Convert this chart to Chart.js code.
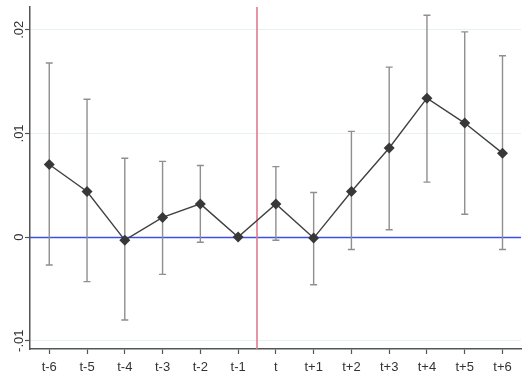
<!DOCTYPE html>
<html>
<head>
<meta charset="utf-8">
<script src="https://cdn.jsdelivr.net/npm/chart.js@4/dist/chart.umd.min.js"></script>
<style>
  html, body { margin: 0; padding: 0; background: #ffffff; }
  #wrap { width: 528px; height: 381px; position: relative; }
</style>
</head>
<body>
<div id="wrap"><canvas id="c"></canvas></div>
<script>
// ---- data ----
const categories = ['t-6','t-5','t-4','t-3','t-2','t-1','t','t+1','t+2','t+3','t+4','t+5','t+6'];
const estimates  = [0.0070, 0.0044, -0.0003, 0.0019, 0.0032, 0.0000, 0.0032, -0.0001, 0.0044, 0.0086, 0.0134, 0.0110, 0.0081];
const ciUpper    = [0.0168, 0.0133, 0.0076, 0.0073, 0.0069, null, 0.0068, 0.0043, 0.0102, 0.0164, 0.0214, 0.0198, 0.0175];
const ciLower    = [-0.0027, -0.0043, -0.0080, -0.0036, -0.0005, null, -0.0003, -0.0046, -0.0012, 0.0007, 0.0053, 0.0022, -0.0012];
const yTickValues = [-0.01, 0, 0.01, 0.02];
const yTickLabels = ['-.01', '0', '.01', '.02'];
const eventLine = 5.5; // between t-1 and t
const zeroLine = 0;

const FONT = "'Liberation Sans', Arial, sans-serif";

const refLinesPlugin = {
  id: 'refLines',
  beforeDatasetsDraw(chart) {
    const {ctx, chartArea, scales: {x, y}} = chart;
    ctx.save();
    // horizontal zero line
    const zy = Math.round(y.getPixelForValue(zeroLine)) + 0.5;
    ctx.strokeStyle = 'rgb(60,80,225)';
    ctx.lineWidth = 1.3;
    ctx.beginPath();
    ctx.moveTo(chartArea.left, zy);
    ctx.lineTo(chartArea.right, zy);
    ctx.stroke();
    // event reference line
    const ex = x.getPixelForValue(eventLine);
    ctx.strokeStyle = '#e27a92';
    ctx.lineWidth = 1.6;
    ctx.beginPath();
    ctx.moveTo(ex, chartArea.top);
    ctx.lineTo(ex, chartArea.bottom);
    ctx.stroke();
    // confidence intervals
    ctx.strokeStyle = '#8f8f8f';
    ctx.lineWidth = 1.4;
    categories.forEach((c, i) => {
      if (ciUpper[i] == null || ciLower[i] == null) return;
      const px = x.getPixelForValue(i);
      const pu = y.getPixelForValue(ciUpper[i]);
      const pl = y.getPixelForValue(ciLower[i]);
      ctx.beginPath();
      ctx.moveTo(px, pu); ctx.lineTo(px, pl);
      ctx.moveTo(px - 3.5, pu); ctx.lineTo(px + 3.5, pu);
      ctx.moveTo(px - 3.5, pl); ctx.lineTo(px + 3.5, pl);
      ctx.stroke();
    });
    ctx.restore();
  }
};

new Chart(document.getElementById('c'), {
  type: 'line',
  data: {
    datasets: [{
      data: categories.map((c, i) => ({x: i, y: estimates[i]})),
      borderColor: '#404040',
      borderWidth: 1.4,
      pointStyle: 'rectRot',
      pointRadius: 5.5,
      pointBackgroundColor: '#383838',
      pointBorderColor: '#383838',
      pointBorderWidth: 0,
      tension: 0,
      fill: false
    }]
  },
  options: {
    responsive: true,
    maintainAspectRatio: false,
    animation: false,
    events: [],
    layout: { padding: { top: 7, right: 7, left: 0, bottom: 0 } },
    plugins: { legend: { display: false }, tooltip: { enabled: false } },
    scales: {
      x: {
        type: 'linear',
        min: -0.51,
        max: 12.49,
        afterBuildTicks: (s) => { s.ticks = categories.map((c, i) => ({value: i})); },
        afterFit: (s) => { s.height = 32; },
        ticks: {
          autoSkip: false, maxRotation: 0, minRotation: 0,
          padding: 6,
          color: '#333333',
          font: { family: FONT, size: 13 },
          callback: (v) => categories[Math.round(v)]
        },
        grid: { drawOnChartArea: false, drawTicks: true, tickLength: 5, tickColor: '#555555', tickWidth: 1.2 },
        border: { display: true, color: '#555555', width: 1.5 }
      },
      y: {
        type: 'linear',
        min: -0.0108,
        max: 0.0222,
        afterBuildTicks: (s) => { s.ticks = yTickValues.map(v => ({value: v})); },
        afterFit: (s) => { s.width = 30; },
        ticks: {
          minRotation: 90, maxRotation: 90,
          padding: -6,
          crossAlign: 'center',
          color: '#333333',
          font: { family: FONT, size: 13 },
          callback: (v) => { const k = yTickValues.findIndex(t => Math.abs(t - v) < 1e-9); return k >= 0 ? yTickLabels[k] : ''; }
        },
        grid: {
          drawTicks: true, tickLength: 5, tickColor: '#555555', tickWidth: 1.2,
          color: (c) => (c.tick && Math.abs(c.tick.value) < 1e-9) ? 'rgba(0,0,0,0)' : '#e8f1f1',
          lineWidth: 1
        },
        border: { display: true, color: '#555555', width: 1.5 }
      }
    }
  },
  plugins: [refLinesPlugin]
});
</script>
</body>
</html>
